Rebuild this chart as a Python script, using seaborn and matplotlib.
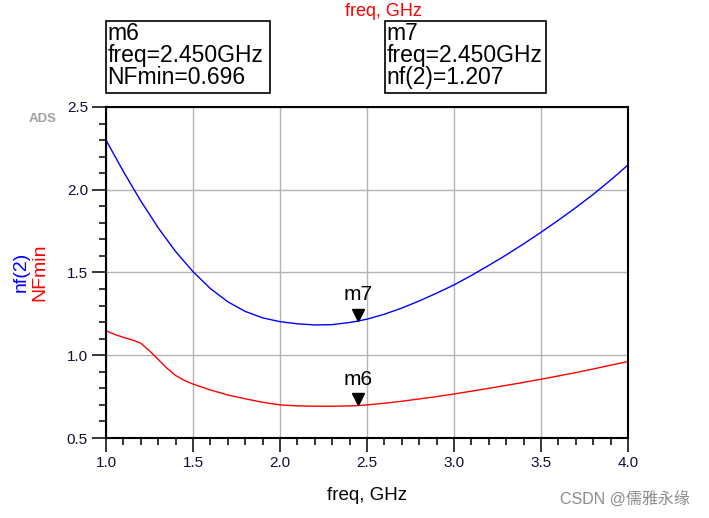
#!/usr/bin/env python3
"""
ADS noise figure plot: nf(2) and NFmin versus frequency, with markers m6 / m7
"""

import pandas as pd
import seaborn as sns
import matplotlib.pyplot as plt
from matplotlib.patches import Rectangle
from matplotlib.ticker import MultipleLocator
from matplotlib.transforms import offset_copy

# data
nf2_freq = [1.0, 1.1, 1.2, 1.3, 1.4, 1.5, 1.6, 1.7, 1.8, 1.9, 2.0, 2.1, 2.2, 2.3,
            2.4, 2.45, 2.5, 2.6, 2.7, 2.8, 2.9, 3.0, 3.1, 3.2, 3.3, 3.4, 3.5, 3.6,
            3.7, 3.8, 3.9, 4.0]
nf2_vals = [2.300, 2.110, 1.932, 1.770, 1.627, 1.505, 1.403, 1.323, 1.265, 1.226,
            1.203, 1.190, 1.183, 1.185, 1.198, 1.207, 1.218, 1.248, 1.285, 1.328,
            1.375, 1.425, 1.482, 1.543, 1.606, 1.673, 1.743, 1.816, 1.892, 1.972,
            2.058, 2.150]

nfmin_freq = [1.0, 1.05, 1.1, 1.15, 1.2, 1.25, 1.3, 1.35, 1.4, 1.45, 1.5, 1.6, 1.7,
              1.8, 1.9, 2.0, 2.1, 2.2, 2.3, 2.4, 2.45, 2.5, 2.6, 2.7, 2.8, 2.9, 3.0,
              3.1, 3.2, 3.3, 3.4, 3.5, 3.6, 3.7, 3.8, 3.9, 4.0]
nfmin_vals = [1.148, 1.126, 1.108, 1.093, 1.073, 1.027, 0.975, 0.922, 0.878, 0.848,
              0.826, 0.790, 0.760, 0.737, 0.716, 0.700, 0.694, 0.692, 0.692, 0.694,
              0.696, 0.700, 0.710, 0.722, 0.736, 0.750, 0.766, 0.783, 0.800, 0.818,
              0.836, 0.855, 0.875, 0.895, 0.917, 0.940, 0.962]

# markers
m6_freq, m6_val = 2.450, 0.696
m7_freq, m7_val = 2.450, 1.207

x_ticks = [1.0, 1.5, 2.0, 2.5, 3.0, 3.5, 4.0]
y_ticks = [0.5, 1.0, 1.5, 2.0, 2.5]


def create_plot():
    df = pd.concat([
        pd.DataFrame({'freq': nf2_freq, 'value': nf2_vals, 'trace': 'nf(2)'}),
        pd.DataFrame({'freq': nfmin_freq, 'value': nfmin_vals, 'trace': 'NFmin'}),
    ])

    sns.set_style("white")
    plt.rcParams['font.family'] = ['Liberation Sans', 'Noto Sans CJK SC']

    fig = plt.figure(figsize=(7.09, 5.18), dpi=100)
    W, H = 709, 518
    ax = fig.add_axes([106 / W, 1 - 438 / H, 522 / W, 331 / H])

    sns.lineplot(data=df, x='freq', y='value', hue='trace',
                 palette={'nf(2)': '#0000ff', 'NFmin': '#ff0000'},
                 linewidth=1.0, ax=ax, legend=False, sort=False)

    ax.set_xlim(1.0, 4.0)
    ax.set_ylim(0.5, 2.5)
    ax.set_xticks(x_ticks)
    ax.set_yticks(y_ticks)
    ax.set_xticklabels([f"{t:.1f}" for t in x_ticks])
    ax.set_yticklabels([f"{t:.1f}" for t in y_ticks])
    ax.xaxis.set_minor_locator(MultipleLocator(0.1))
    ax.yaxis.set_minor_locator(MultipleLocator(0.1))
    ax.tick_params(which='major', length=10, width=1.1, color='black',
                   labelsize=11, labelcolor='#101030', pad=3)
    ax.tick_params(which='minor', length=5, width=1.1, color='black')
    ax.tick_params(axis='both', which='both', direction='out',
                   bottom=True, left=True, top=False, right=False)
    ax.grid(True, which='major', color='#b4b4b4', linewidth=1.0)
    for sp in ax.spines.values():
        sp.set_color('black')
        sp.set_linewidth(1.5)

    ax.set_xlabel('')
    ax.set_ylabel('')

    # marker triangles and labels
    for name, fx, fv in [('m7', m7_freq, m7_val), ('m6', m6_freq, m6_val)]:
        tr = offset_copy(ax.transData, fig=fig, x=0, y=4.5, units='points')
        ax.plot([fx], [fv], marker='v', markersize=9, color='black',
                transform=tr, clip_on=False)
        ax.annotate(name, (fx, fv), xytext=(0, 12), textcoords='offset points',
                    ha='center', va='bottom', fontsize=15, color='black')

    # marker readout boxes (figure pixel coords)
    def px(x, y):
        return x / W, 1 - y / H

    for (x0, x1), txt in [((106, 270), "m6\nfreq=2.450GHz\nNFmin=0.696"),
                          ((385, 546), "m7\nfreq=2.450GHz\nnf(2)=1.207")]:
        fig.patches.append(Rectangle(px(x0, 93), (x1 - x0) / W, 72 / H,
                                     transform=fig.transFigure, fill=False,
                                     edgecolor='black', linewidth=1.2))
        fig.text(*px(x0 + 1.5, 22), txt, ha='left', va='top', fontsize=16.5,
                 linespacing=0.95, color='black')

    # axis titles
    fig.text(*px(383, 11), 'freq, GHz', color='#ff0000', fontsize=13,
             ha='center', va='center')
    fig.text(*px(367, 496), 'freq, GHz', color='black', fontsize=13.5,
             ha='center', va='center')
    fig.text(*px(21, 272), 'nf(2)', color='#0000ff', fontsize=14,
             rotation=90, ha='center', va='center')
    fig.text(*px(39.5, 272), 'NFmin', color='#ff0000', fontsize=14,
             rotation=90, ha='center', va='center')
    fig.text(*px(43, 119), 'ADS', color='#a0a0a0', fontsize=9.5,
             fontweight='bold', ha='center', va='center')
    fig.text(*px(625, 499), 'CSDN @儒雅永缘', color='#8c8c8c', fontsize=11.5,
             ha='center', va='center')

    fig.savefig('out.png', dpi=100)


if __name__ == "__main__":
    create_plot()
